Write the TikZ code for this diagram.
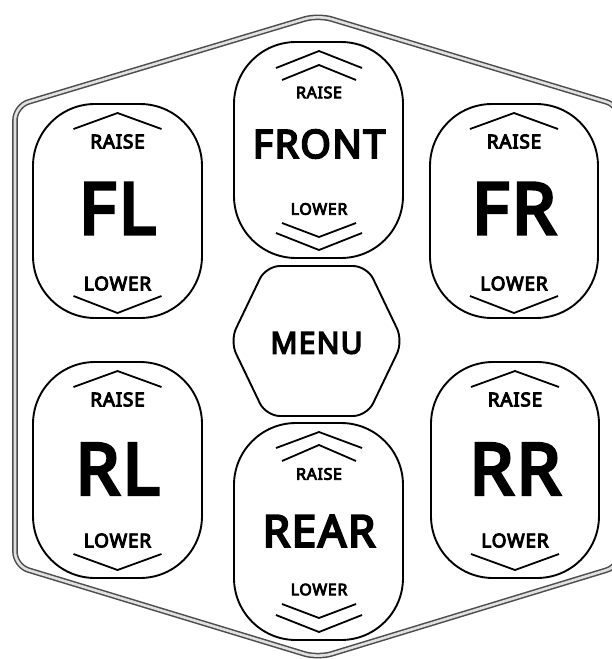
\documentclass[tikz,border=0pt]{standalone}
\usepackage{fontspec}
\setmainfont{Noto Sans}[AutoFakeBold=5, LetterSpace=4]
\tikzset{
  housing/.style={draw=black!70, line width=1.5pt, double=black!12, double distance=2.6pt, rounded corners=14pt},
  padline/.style={line width=1.9pt, rounded corners=62pt},
  menuline/.style={line width=1.9pt, rounded corners=14pt},
  chevron/.style={line width=1.8pt},
  tag/.style={inner sep=0pt, font=\fontsize{19}{20}\selectfont\bfseries},
  smalltag/.style={inner sep=0pt, font=\fontsize{16}{17}\selectfont\bfseries},
  bigtag/.style={inner sep=0pt, font=\fontsize{71}{71}\selectfont\bfseries},
}

\begin{document}
\begin{tikzpicture}[x=1pt, y=-1pt]
			%%%%% START %%%%%
			\useasboundingbox (0,0) rectangle (612,659);
			\fill[white] (0,0) rectangle (612,659);
			
			\draw[housing] (318,15) -- (620,106) -- (620,566) -- (318,658) -- (15,566) -- (15,106) -- cycle;
			
			% front left
			\draw[padline] (33,104) rectangle (202,318);
			\draw[chevron] (73.5,129) -- (117.5,113) -- (161.5,129);
			\node[tag] (flraise) at (117.5,141.5) {RAISE};
			\node[bigtag] (fl) at (117.5,208.5) {FL};
			\node[tag] (fllower) at (117.5,283.5) {LOWER};
			\draw[chevron] (73.5,296) -- (117.5,313) -- (161.5,296);
			
			% front right
			\draw[padline] (430,104) rectangle (598,318);
			\draw[chevron] (470,129) -- (514,113) -- (558,129);
			\node[tag] (frraise) at (514,141.5) {RAISE};
			\node[bigtag] (fr) at (514,208.5) {FR};
			\node[tag] (frlower) at (514,283.5) {LOWER};
			\draw[chevron] (470,296) -- (514,313) -- (558,296);
			
			% rear left
			\draw[padline] (33,362) rectangle (202,578);
			\draw[chevron] (73.5,387) -- (117.5,371) -- (161.5,387);
			\node[tag] (rlraise) at (117.5,399.5) {RAISE};
			\node[bigtag] (rl) at (117.5,469) {RL};
			\node[tag] (rllower) at (117.5,540.5) {LOWER};
			\draw[chevron] (73.5,554) -- (117.5,570) -- (161.5,554);
			
			% rear right
			\draw[padline] (431,362) rectangle (599,578);
			\draw[chevron] (471,387) -- (515,371) -- (559,387);
			\node[tag] (rrraise) at (515,399.5) {RAISE};
			\node[bigtag] (rr) at (515,469) {RR};
			\node[tag] (rrlower) at (515,540.5) {LOWER};
			\draw[chevron] (471,554) -- (515,570) -- (559,554);
			
			% front axle
			\draw[padline] (234,42) rectangle (403,258);
			\draw[chevron] (276,68) -- (319,51) -- (362,68);
			\draw[chevron] (282,80) -- (319,65) -- (356,80);
			\node[smalltag] (frontraise) at (319,92.5) {RAISE};
			\node[inner sep=0pt, font=\fontsize{39}{39}\selectfont\bfseries] (front) at (319,144) {FRONT};
			\node[smalltag] (frontlower) at (319,209) {LOWER};
			\draw[chevron] (282,223) -- (319,237) -- (356,223);
			\draw[chevron] (276,233) -- (319,250) -- (362,233);
			
			% menu
			\draw[menuline] (266,266) -- (367,266) -- (403,341) -- (367,416) -- (266,416) -- (230,341) -- cycle;
			\node[inner sep=0pt, font=\fontsize{30}{30}\selectfont\bfseries] (menu) at (316.5,343) {MENU};
			
			% rear axle
			\draw[padline] (234,423) rectangle (403,640);
			\draw[chevron] (276,448) -- (319,432) -- (362,448);
			\draw[chevron] (282,461) -- (319,445) -- (356,461);
			\node[smalltag] (rearraise) at (319,474) {RAISE};
			\node[inner sep=0pt, font=\fontsize{44}{44}\selectfont\bfseries] (rear) at (319,531) {REAR};
			\node[smalltag] (rearlower) at (319,589.5) {LOWER};
			\draw[chevron] (282,604) -- (319,618) -- (356,604);
			\draw[chevron] (276,615) -- (319,632) -- (362,615);
			
			%%%%% END %%%%%
\end{tikzpicture}
\end{document}
